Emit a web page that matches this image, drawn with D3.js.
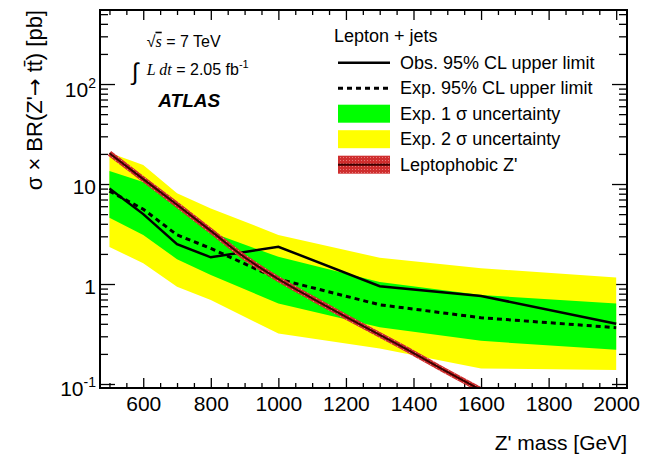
<!DOCTYPE html>
<html>
<head>
<meta charset="utf-8">
<script src="https://cdn.jsdelivr.net/npm/d3@7"></script>
<style>
  body { margin: 0; background: #fff; }
  text { font-family: "Liberation Sans", Arial, sans-serif; fill: #000; }
  .serif { font-family: "Liberation Serif", "Times New Roman", serif; font-style: italic; }
</style>
</head>
<body>
<svg id="chart" width="654" height="456"></svg>
<script>
/*********************
	Data
**********************/
var mass_points = [500, 600, 700, 800, 1000, 1300, 1600, 2000];
var obs_limit = [9.0, 5.0, 2.5, 1.85, 2.36, 0.95, 0.76, 0.40];
var exp_limit = [8.5, 5.6, 3.1, 2.27, 1.12, 0.62, 0.46, 0.366];
var one_sigma_up = [13.5, 10.5, 6.0, 3.3, 1.87, 1.05, 0.776, 0.64];
var one_sigma_down = [4.6, 3.1, 1.77, 1.23, 0.64, 0.37, 0.27, 0.22];
var two_sigma_up = [20.6, 15.5, 8.1, 5.7, 3.1, 1.83, 1.44, 1.16];
var two_sigma_down = [2.35, 1.61, 0.94, 0.69, 0.32, 0.227, 0.143, 0.138];

var zprime_mass = [500, 600, 700, 800, 900, 1000, 1100, 1200, 1300, 1400, 1500, 1600];
var zprime_xsec = [20.3, 11.2, 6.2, 3.4, 1.85, 1.12, 0.72, 0.47, 0.31, 0.204, 0.132, 0.087];

var x_tick_values = [600, 800, 1000, 1200, 1400, 1600, 1800, 2000];
var y_tick_values = [0.1, 1, 10, 100];
var y_tick_base = ["10", "1", "10", "10"];
var y_tick_exp = ["-1", "", "", "2"];

var legend_title = "Lepton + jets";
var legend_labels = ["Obs. 95% CL upper limit", "Exp. 95% CL upper limit",
                     "Exp. 1 \u03c3 uncertainty", "Exp. 2 \u03c3 uncertainty", "Leptophobic Z'"];

/*********************
	Layout
**********************/
var frame = {left: 100, top: 10, right: 627, bottom: 388};
var svg = d3.select("#chart");

var x = d3.scaleLinear().domain([472, 2032]).range([frame.left, frame.right]);
var y = d3.scaleLog().domain([0.0912, 550]).range([frame.bottom, frame.top]);

var defs = svg.append("defs");
defs.append("clipPath").attr("id", "plot-clip")
    .append("rect")
    .attr("x", frame.left).attr("y", frame.top)
    .attr("width", frame.right - frame.left)
    .attr("height", frame.bottom - frame.top);

// mottled red for the Z' band
var pat = defs.append("pattern").attr("id", "red-hatch")
    .attr("width", 3).attr("height", 3).attr("patternUnits", "userSpaceOnUse");
pat.append("rect").attr("width", 3).attr("height", 3).attr("fill", "#cf2e2e");
pat.append("rect").attr("x", 1).attr("y", 1).attr("width", 1).attr("height", 1).attr("fill", "#e87a7a");

/*********************
	Axes (ticks only, frame drawn later)
**********************/
function cleanAxis(sel) {
    sel.select(".domain").remove();
    sel.selectAll(".tick line").attr("stroke", "#000").attr("stroke-width", 1.3);
}

var x_minor = d3.range(500, 2001, 50).filter(function(d){ return x_tick_values.indexOf(d) < 0; });
var y_minor = y.ticks().filter(function(d){ return y_tick_values.indexOf(d) < 0; });

// bottom
svg.append("g").attr("transform", "translate(0," + frame.bottom + ")")
    .call(d3.axisBottom(x).tickValues(x_minor).tickSize(-5).tickFormat(""))
    .call(cleanAxis);
var xg = svg.append("g").attr("transform", "translate(0," + frame.bottom + ")")
    .call(d3.axisBottom(x).tickValues(x_tick_values).tickSize(-10).tickPadding(8).tickFormat(d3.format("d")))
    .call(cleanAxis);
xg.selectAll("text").attr("font-size", 21).attr("font-family", "Liberation Sans, Arial, sans-serif").attr("fill", "#000");

// top
svg.append("g").attr("transform", "translate(0," + frame.top + ")")
    .call(d3.axisTop(x).tickValues(x_minor).tickSize(-5).tickFormat(""))
    .call(cleanAxis);
svg.append("g").attr("transform", "translate(0," + frame.top + ")")
    .call(d3.axisTop(x).tickValues(x_tick_values).tickSize(-10).tickFormat(""))
    .call(cleanAxis);

// left
svg.append("g").attr("transform", "translate(" + frame.left + ",0)")
    .call(d3.axisLeft(y).tickValues(y_minor).tickSize(-8).tickFormat(""))
    .call(cleanAxis);
var yg = svg.append("g").attr("transform", "translate(" + frame.left + ",0)")
    .call(d3.axisLeft(y).tickValues(y_tick_values).tickSize(-15).tickPadding(4).tickFormat(""))
    .call(cleanAxis);
yg.selectAll(".tick text").each(function(d, i) {
    var t = d3.select(this)
        .attr("font-size", 21).attr("font-family", "Liberation Sans, Arial, sans-serif")
        .attr("fill", "#000").attr("text-anchor", "end")
        .attr("dy", y_tick_exp[i] ? 12 : 9.5);
    t.append("tspan").text(y_tick_base[i]);
    if (y_tick_exp[i]) {
        t.append("tspan").attr("font-size", 14).attr("dy", -9).text(y_tick_exp[i]);
    }
});

// right
svg.append("g").attr("transform", "translate(" + frame.right + ",0)")
    .call(d3.axisRight(y).tickValues(y_minor).tickSize(-8).tickFormat(""))
    .call(cleanAxis);
svg.append("g").attr("transform", "translate(" + frame.right + ",0)")
    .call(d3.axisRight(y).tickValues(y_tick_values).tickSize(-15).tickFormat(""))
    .call(cleanAxis);

/*********************
	Bands and curves
**********************/
var plot = svg.append("g").attr("clip-path", "url(#plot-clip)");

var band = function(up, down) {
    return d3.area()
        .x(function(d, i){ return x(mass_points[i]); })
        .y0(function(d, i){ return y(down[i]); })
        .y1(function(d, i){ return y(up[i]); })(mass_points);
};
plot.append("path").attr("d", band(two_sigma_up, two_sigma_down)).attr("fill", "#ffff00");
plot.append("path").attr("d", band(one_sigma_up, one_sigma_down)).attr("fill", "#00ff00");

var limitLine = function(vals) {
    return d3.line()
        .x(function(d, i){ return x(mass_points[i]); })
        .y(function(d, i){ return y(vals[i]); })(mass_points);
};
plot.append("path").attr("d", limitLine(exp_limit))
    .attr("fill", "none").attr("stroke", "#000").attr("stroke-width", 3)
    .attr("stroke-dasharray", "5,4");
plot.append("path").attr("d", limitLine(obs_limit))
    .attr("fill", "none").attr("stroke", "#000").attr("stroke-width", 2.5);

var zLine = d3.line()
    .curve(d3.curveMonotoneX)
    .x(function(d, i){ return x(zprime_mass[i]); })
    .y(function(d, i){ return y(zprime_xsec[i]); });
plot.append("path").attr("d", zLine(zprime_mass))
    .attr("fill", "none").attr("stroke", "url(#red-hatch)").attr("stroke-width", 5.5);
plot.append("path").attr("d", zLine(zprime_mass))
    .attr("fill", "none").attr("stroke", "#3a0000").attr("stroke-width", 2);

// frame
svg.append("rect")
    .attr("x", frame.left).attr("y", frame.top)
    .attr("width", frame.right - frame.left).attr("height", frame.bottom - frame.top)
    .attr("fill", "none").attr("stroke", "#000").attr("stroke-width", 2);

/*********************
	Axis titles
**********************/
svg.append("text")
    .attr("x", frame.right).attr("y", 450)
    .attr("text-anchor", "end").attr("font-size", 21)
    .text("Z' mass [GeV]");

var ytitle = svg.append("text")
    .attr("transform", "translate(42," + frame.top + ") rotate(-90)")
    .attr("text-anchor", "end").attr("font-size", 22);
ytitle.append("tspan").text("\u03c3 \u00d7 BR(Z'");
ytitle.append("tspan").attr("font-family", "DejaVu Sans, sans-serif").attr("font-size", 21).text("\u2192");
ytitle.append("tspan").text(" tt\u0304) [pb]");

/*********************
	Annotations
**********************/
var s1 = svg.append("text").attr("x", 146.7).attr("y", 46.7).attr("font-size", 16);
s1.append("tspan").text("\u221a");
s1.append("tspan").attr("class", "serif").style("text-decoration", "overline").text("s");
s1.append("tspan").text(" = 7 TeV");

svg.append("text").attr("x", 132).attr("y", 80)
    .attr("font-size", 24).attr("font-family", "DejaVu Serif, serif").text("\u222b");
var s2 = svg.append("text").attr("x", 146.7).attr("y", 75).attr("font-size", 16);
s2.append("tspan").attr("class", "serif").text("L dt");
s2.append("tspan").text(" = 2.05 fb");
s2.append("tspan").attr("font-size", 11).attr("dy", -7).text("-1");

svg.append("text").attr("x", 158.3).attr("y", 107.3)
    .attr("font-size", 19).attr("font-weight", "bold").attr("font-style", "italic")
    .text("ATLAS");

/*********************
	Legend
**********************/
var leg = svg.append("g");
leg.append("text").attr("x", 334).attr("y", 41.7).attr("font-size", 18).text(legend_title);

var row_y = function(i){ return 62.7 + i * 25.5; };
var sw_x0 = 338, sw_x1 = 390;

leg.append("line").attr("x1", sw_x0).attr("x2", sw_x1).attr("y1", row_y(0)).attr("y2", row_y(0))
    .attr("stroke", "#000").attr("stroke-width", 2.5);
leg.append("line").attr("x1", sw_x0).attr("x2", sw_x1).attr("y1", row_y(1)).attr("y2", row_y(1))
    .attr("stroke", "#000").attr("stroke-width", 3).attr("stroke-dasharray", "5,4");
leg.append("rect").attr("x", sw_x0).attr("y", row_y(2) - 9).attr("width", sw_x1 - sw_x0).attr("height", 18)
    .attr("fill", "#00ff00");
leg.append("rect").attr("x", sw_x0).attr("y", row_y(3) - 9).attr("width", sw_x1 - sw_x0).attr("height", 18)
    .attr("fill", "#ffff00");
leg.append("rect").attr("x", sw_x0).attr("y", row_y(4) - 9).attr("width", sw_x1 - sw_x0).attr("height", 18)
    .attr("fill", "url(#red-hatch)");
leg.append("line").attr("x1", sw_x0).attr("x2", sw_x1).attr("y1", row_y(4)).attr("y2", row_y(4))
    .attr("stroke", "#3a0000").attr("stroke-width", 2);

leg.selectAll("text.entry").data(legend_labels).enter()
    .append("text").attr("class", "entry")
    .attr("x", 400).attr("y", function(d, i){ return row_y(i) + 6; })
    .attr("font-size", 18).text(function(d){ return d; });
</script>
</body>
</html>
